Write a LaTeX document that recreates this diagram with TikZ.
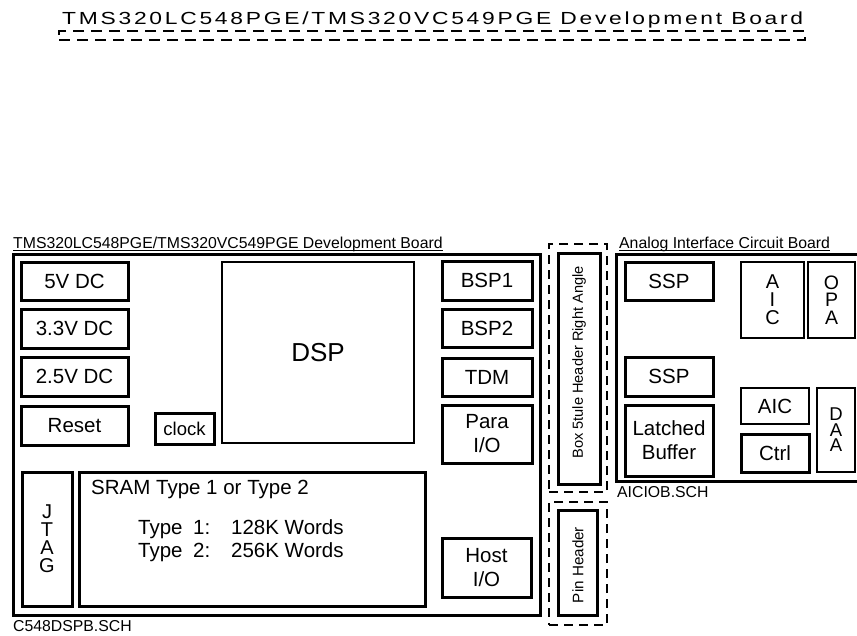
\documentclass[tikz,border=0pt]{standalone}
\usepackage{fontspec}
\usepackage{graphicx}
\setmainfont{Liberation Sans}
\newcommand\myBody{\fontsize{20.5}{24}\selectfont}
\newcommand\mySmall{\fontsize{15.8}{18}\selectfont}
\newcommand\myTitle{\fontsize{17.5}{20}\selectfont\addfontfeature{LetterSpace=12}}
\begin{document}
\begin{tikzpicture}[x=1pt,y=-1pt,
  box/.style={draw=black, line width=3pt, inner sep=0pt, align=center, font=\myBody},
  lightbox/.style={box, line width=2.4pt},
  dashbox/.style={draw=black, line width=2.4pt, dash pattern=on 9pt off 6pt, inner sep=0pt},
  lbl/.style={inner sep=0pt, font=\mySmall},
  txt/.style={inner sep=0pt, font=\myBody},
  uline/.style={line width=0.9pt}
]
\useasboundingbox (0,0) rectangle (857,635);

% ---- top title ----
\node[anchor=base west, inner sep=0pt] (title) at (62,24.5)
  {\resizebox{741pt}{\height}{\myTitle TMS320LC548PGE/TMS320VC549PGE Development Board}};
\node[draw=black, line width=2pt, dash pattern=on 11pt off 7pt, inner sep=0pt,
      minimum width=746, minimum height=9] (titlebar) at (432,35.5) {};

% ---- DSP development board ----
\node[draw=black, line width=3pt, inner sep=0pt, minimum width=527, minimum height=361] (board) at (276.5,434.5) {};
\node[lbl, anchor=base west] (boardlbl) at (13,248.5) {TMS320LC548PGE/TMS320VC549PGE Development Board};
\draw[uline] ([yshift=-1.6pt]boardlbl.base west) -- ([yshift=-1.6pt]boardlbl.base east);
\node[lbl, anchor=base west] (boardsch) at (13,631.5) {C548DSPB.SCH};

\node[box, minimum width=107, minimum height=38] (v5)  at (74.5,281)   {5V DC};
\node[box, minimum width=107, minimum height=39] (v33) at (74.5,328.5) {3.3V DC};
\node[box, minimum width=107, minimum height=39] (v25) at (74.5,376.5) {2.5V DC};
\node[box, minimum width=107, minimum height=39] (rst) at (74.5,425.5) {Reset};
\node[box, minimum width=59, minimum height=31, font=\fontsize{18.5}{22}\selectfont] (clk) at (184.5,428.5) {clock};
\node[lightbox, minimum width=192, minimum height=181, font=\fontsize{26}{30}\selectfont] (dsp) at (318,352.5) {DSP};

\node[box, minimum width=90, minimum height=39] (bsp1) at (487,280.5) {BSP1};
\node[box, minimum width=90, minimum height=38] (bsp2) at (487,328)   {BSP2};
\node[box, minimum width=90, minimum height=38] (tdm)  at (487,377)   {TDM};
\node[box, minimum width=90, minimum height=58] (para) at (487,434)   {Para\\I/O};
\node[box, minimum width=89, minimum height=59] (host) at (486.5,567.5) {Host\\I/O};

\node[box, minimum width=50, minimum height=134, font=\fontsize{20}{18}\selectfont] (jtag) at (47,539) {J\\T\\A\\G};
\node[box, minimum width=346, minimum height=134] (sram) at (252,539) {};
\node[txt, anchor=base west] (sramt) at (91,494.5) {SRAM Type 1 or Type 2};
\node[txt, anchor=base west] (t1a) at (138,534.5) {Type};
\node[txt, anchor=base west] (t1b) at (193,534.5) {1:};
\node[txt, anchor=base west] (t1c) at (231,534.5) {128K Words};
\node[txt, anchor=base west] (t2a) at (138,557.5) {Type};
\node[txt, anchor=base west] (t2b) at (193,557.5) {2:};
\node[txt, anchor=base west] (t2c) at (231,557.5) {256K Words};

% ---- headers ----
\node[dashbox, minimum width=58, minimum height=248] (hdrdash) at (578,368) {};
\node[box, minimum width=42, minimum height=231] (hdr) at (579,368.5) {};
\node[rotate=90, inner sep=0pt, font=\fontsize{14.6}{17}\selectfont] (hdrtxt) at (579,362.5) {Box 5tule Header Right Angle};

\node[dashbox, minimum width=58, minimum height=123] (pindash) at (578,563.5) {};
\node[box, minimum width=39, minimum height=105] (pin) at (577.5,562.5) {};
\node[rotate=90, inner sep=0pt, font=\fontsize{15.2}{18}\selectfont] (pintxt) at (578,565) {Pin Header};

% ---- analog interface board ----
\coordinate (aicTR) at (857,254);
\coordinate (aicBR) at (857,481);
\draw[line width=3pt] (aicTR) -- (616,254) -- (616,481) -- (aicBR);
\node[lbl, anchor=base west] (aiclbl) at (619,248.5) {Analog Interface Circuit Board};
\draw[uline] ([yshift=-1.6pt]aiclbl.base west) -- ([yshift=-1.6pt]aiclbl.base east);
\node[lbl, anchor=base west] (aicsch) at (617,497) {AICIOB.SCH};

\node[box, minimum width=88, minimum height=38] (ssp1) at (669,281)   {SSP};
\node[box, minimum width=88, minimum height=39] (ssp2) at (669,376.5) {SSP};
\node[box, minimum width=88, minimum height=71] (latch) at (669,440.5) {Latched\\Buffer};
\node[lightbox, minimum width=63, minimum height=76, font=\fontsize{20}{18}\selectfont] (aicv) at (772.5,300) {A\\I\\C};
\node[lightbox, minimum width=47, minimum height=76, font=\fontsize{19.5}{17.2}\selectfont] (opa) at (831.5,300) {O\\P\\A};
\node[lightbox, minimum width=68, minimum height=36] (aic) at (775,406) {AIC};
\node[box, minimum width=68, minimum height=38] (ctrl) at (775,453) {Ctrl};
\node[lightbox, minimum width=38, minimum height=84, font=\fontsize{18.5}{15.5}\selectfont] (daa) at (836,430) {D\\A\\A};
\end{tikzpicture}
\end{document}
